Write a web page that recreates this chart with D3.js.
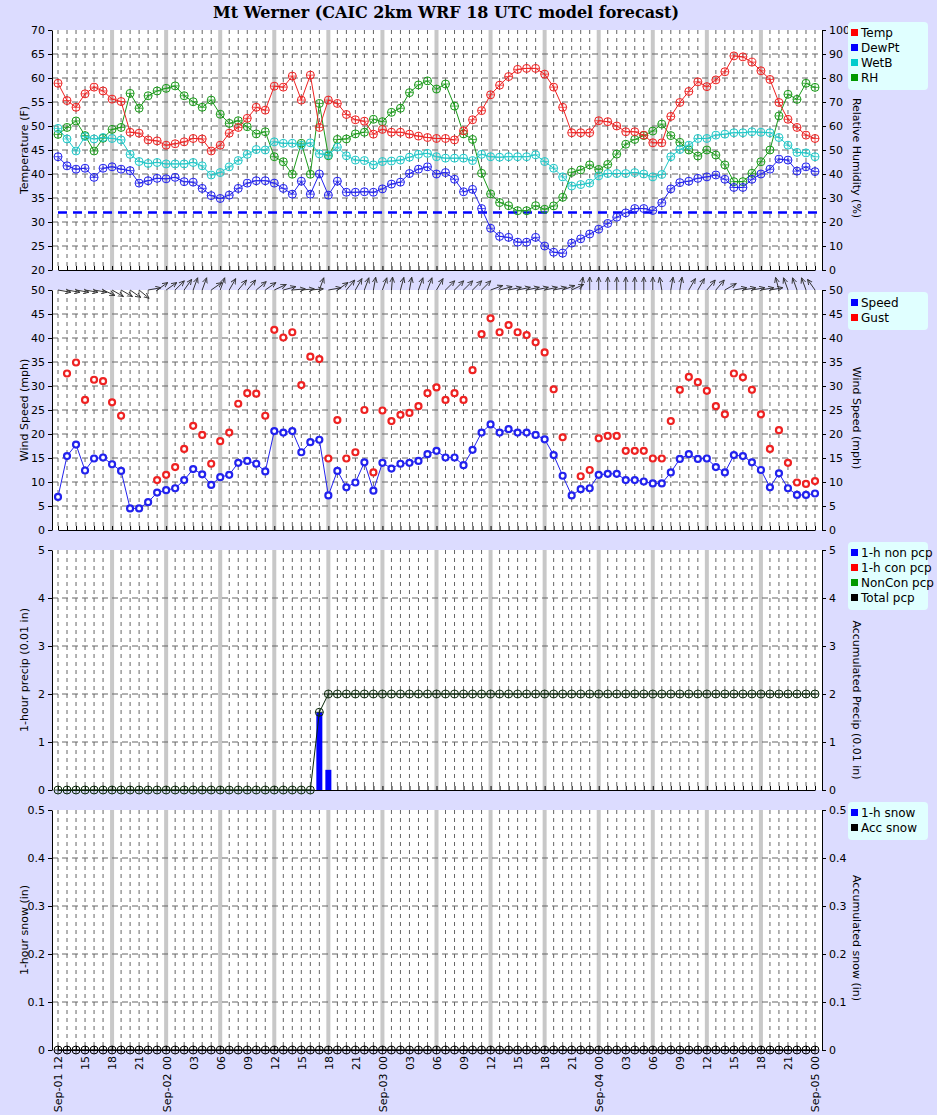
<!DOCTYPE html>
<html><head><meta charset="utf-8">
<script src="https://cdn.jsdelivr.net/npm/d3@7"></script>
<style>body{margin:0;background:#dcdcff}svg{display:block}text{font-family:"DejaVu Sans",sans-serif}</style>
</head><body><div id="chart"></div>
<script>
// hourly from Sep-01 12 UTC to Sep-05 00 UTC
const hours = d3.range(0, 85)
const temp = [58.9,55.3,53.9,56.7,58.1,57.3,55.6,55.1,48.7,48.5,47.1,46.9,46.0,46.3,46.7,47.4,47.3,44.8,46.0,48.5,49.7,51.6,53.9,53.3,58.3,58.1,60.4,55.4,60.6,49.7,55.4,54.7,52.4,51.3,51.0,48.3,49.3,48.7,48.7,48.3,47.9,47.6,47.4,47.4,47.1,49.0,51.3,53.2,56.5,58.5,60.3,61.8,62.0,62.0,60.8,58.1,53.9,48.6,48.6,48.6,51.1,50.9,50.0,48.8,48.8,48.1,46.5,46.5,52.0,54.9,57.2,59.2,58.2,59.6,61.3,64.6,64.4,63.3,61.5,59.7,54.9,51.4,49.7,48.1,47.4]
const dewpt = [43.6,41.7,41.0,41.2,39.3,41.2,41.5,41.0,40.7,38.1,38.6,39.1,39.0,39.3,38.4,38.3,37.0,35.5,34.9,35.6,37.0,38.1,38.6,38.6,38.1,37.0,35.8,38.5,35.8,40.0,35.6,38.5,36.2,36.2,36.3,36.2,36.9,37.9,38.3,40.1,41.0,41.5,40.0,40.3,38.9,36.3,36.8,32.8,28.7,27.0,26.8,25.8,25.8,26.8,25.0,23.7,23.5,25.6,26.5,27.5,28.5,29.7,31.0,31.9,32.8,32.8,32.4,34.0,36.9,38.2,38.5,39.1,39.4,39.8,38.9,37.2,37.2,38.9,40.0,41.0,43.1,42.9,40.6,41.5,40.5]
const wetb = [49.5,47.3,44.8,47.8,47.3,47.6,47.4,47.1,44.1,42.6,42.2,42.4,42.1,42.1,42.1,42.4,41.7,39.8,40.3,41.5,42.8,44.1,45.1,45.0,46.7,46.4,46.4,46.0,46.5,44.2,44.0,45.6,43.8,42.9,42.8,41.9,42.6,42.7,42.9,43.5,44.1,44.3,43.6,43.3,43.3,43.3,42.8,44.1,43.6,43.5,43.6,43.6,43.6,44.0,42.6,41.2,39.4,37.5,37.8,38.1,39.6,40.1,40.1,40.1,40.3,40.0,39.4,39.9,43.6,45.1,46.0,47.4,47.4,48.1,48.3,48.6,48.6,48.8,48.7,48.6,47.6,46.0,44.5,44.4,43.6]
const rh = [56.5,59.4,62.1,56.0,49.6,54.9,58.6,59.4,73.6,67.4,72.6,74.6,75.7,76.7,72.6,70.1,67.8,70.8,64.9,61.1,62.2,59.7,56.7,57.6,47.2,45.1,39.9,52.8,39.9,69.4,47.6,54.4,54.6,56.7,57.4,62.8,61.8,65.7,67.4,73.9,77.1,78.8,75.4,77.5,68.3,56.7,54.4,40.3,31.7,28.1,26.8,24.7,24.7,26.8,25.3,26.7,30.3,40.7,41.7,43.8,41.9,44.0,48.3,52.4,54.4,56.0,57.9,60.8,56.0,53.2,50.0,47.5,50.0,47.9,43.8,36.8,36.8,40.3,45.1,50.0,64.2,73.2,71.1,77.8,76.1]
const speed = [6.9,15.4,17.8,12.4,14.9,15.1,13.7,12.3,4.5,4.5,5.8,7.8,8.3,8.7,10.4,12.7,11.6,9.4,11.0,11.5,14.0,14.4,13.8,12.2,20.6,20.3,20.6,16.2,18.3,18.8,7.2,12.3,8.9,9.9,14.1,8.2,14.0,12.8,13.8,14.0,14.4,15.8,16.5,15.1,15.1,13.5,16.7,20.3,22.0,20.3,21.0,20.3,20.3,19.8,18.9,15.6,11.3,7.2,8.5,8.7,11.5,11.7,11.7,10.4,10.4,10.1,9.7,9.7,12.0,14.8,15.8,14.8,14.9,13.1,12.0,15.6,15.4,14.1,12.5,8.9,11.8,8.7,7.3,7.3,7.6]
const gust = [null,32.6,34.9,27.1,31.3,31.0,26.6,23.8,null,null,null,10.4,11.5,13.1,16.9,21.7,19.8,13.8,18.5,20.3,26.3,28.5,28.4,23.8,41.7,40.1,41.2,30.2,36.1,35.6,14.9,22.9,14.9,16.2,25.0,12.0,24.9,22.7,24.0,24.4,25.8,28.5,29.7,27.1,28.5,27.1,33.3,40.8,44.1,41.2,42.7,41.2,40.6,39.1,37.0,29.3,19.3,null,11.2,12.5,19.1,19.6,19.6,16.5,16.5,16.5,14.9,14.9,22.7,29.2,31.9,30.8,29.0,25.8,24.1,32.6,31.8,29.2,24.1,16.9,20.8,14.0,9.9,9.6,10.2]
// wind direction (deg, from)
const wdir = [280,280,280,280,280,295,300,300,305,310,260,235,235,225,215,200,200,235,200,210,220,220,230,235,245,255,265,265,265,200,260,235,220,210,200,190,200,185,195,190,200,200,210,225,225,225,225,225,250,255,258,258,258,258,258,258,250,245,190,180,180,180,180,180,180,180,180,170,190,190,210,210,220,220,240,260,260,260,260,260,165,160,160,160,145]
const pcpNon = hours.map(h => h === 29 ? 1.62 : h === 30 ? 0.42 : 0)
const pcpAcc = hours.map(h => h < 29 ? 0 : h === 29 ? 1.62 : 2.0)
const snowAcc = hours.map(() => 0)
const dayLabels = {0:'Sep-01 12',12:'Sep-02 00',36:'Sep-03 00',60:'Sep-04 00',84:'Sep-05 00'}

const W = 937, H = 1115, L = 52, R = 822
const svg = d3.select('#chart').append('svg').attr('width', W).attr('height', H)
svg.append('rect').attr('width', W).attr('height', H).attr('fill', '#dcdcff')
svg.append('text').attr('x', 446).attr('y', 18).attr('text-anchor', 'middle')
  .style('font-family', '"DejaVu Serif",serif').style('font-weight', 'bold').style('font-size', '16px')
  .text('Mt Werner (CAIC 2km WRF 18 UTC model forecast)')

const x = d3.scaleLinear().domain([0, 84]).range([58, 815])

function panel(top, yDom, yStep, yDom2, leftLabel, rightLabel, legend, fmt, fmt2, legOff, labOff) {
  const y = d3.scaleLinear().domain(yDom).range([top + 240, top])
  const y2 = d3.scaleLinear().domain(yDom2).range([top + 240, top])
  const g = svg.append('g')
  g.append('rect').attr('x', L).attr('y', top).attr('width', R - L).attr('height', 240).attr('fill', '#fff')
  hours.filter(h => h % 6 === 0 && h > 0 && h < 84).forEach(h =>
    g.append('line').attr('x1', x(h)).attr('x2', x(h)).attr('y1', top).attr('y2', top + 240)
      .attr('stroke', '#c8c8c8').attr('stroke-width', 4))
  hours.filter(h => h % 6 !== 0 || h === 0 || h === 84).forEach(h =>
    g.append('line').attr('x1', x(h)).attr('x2', x(h)).attr('y1', top).attr('y2', top + 240)
      .attr('stroke', '#666').attr('stroke-dasharray', '4,4'))
  const ticks = d3.range(yDom[0], yDom[1] + yStep / 2, yStep)
  ticks.slice(1, -1).forEach(t =>
    g.append('line').attr('x1', L).attr('x2', R).attr('y1', y(t)).attr('y2', y(t))
      .attr('stroke', '#666').attr('stroke-dasharray', '6,4'))
  g.append('g').attr('transform', `translate(${L},0)`)
    .call(d3.axisLeft(y).tickValues(ticks).tickFormat(fmt).tickSize(4).tickSizeOuter(0))
  const t2 = ticks.map((t, i) => yDom2[0] + (yDom2[1] - yDom2[0]) * i / (ticks.length - 1))
  g.append('g').attr('transform', `translate(${R},0)`)
    .call(d3.axisRight(y2).tickValues(t2).tickFormat(fmt2).tickSize(4).tickSizeOuter(0))
  g.append('g').attr('transform', `translate(0,${top + 240})`)
    .call(d3.axisBottom(x).tickValues(hours).tickFormat('').tickSize(-4).tickSizeOuter(0))
  g.selectAll('.domain').attr('stroke', '#000')
  g.selectAll('.tick text').style('font-size', '11px').attr('fill', '#000')
  g.append('text').attr('transform', `translate(28,${top + 120}) rotate(-90)`).attr('text-anchor', 'middle')
    .style('font-size', '11px').text(leftLabel)
  g.append('text').attr('transform', `translate(853,${top + (labOff || 128)}) rotate(90)`).attr('text-anchor', 'middle')
    .style('font-size', '11px').text(rightLabel)
  const lt = top + (legOff || 0)
  const lg = g.append('g')
  lg.append('rect').attr('x', 848).attr('y', lt - 8).attr('width', 80).attr('height', legend.length * 15 + 8)
    .attr('rx', 4).attr('fill', '#e0ffff')
  legend.forEach((d, i) => {
    lg.append('rect').attr('x', 851).attr('y', lt - 1 + i * 15).attr('width', 7).attr('height', 7).attr('fill', d[1])
    lg.append('text').attr('x', 861).attr('y', lt + 7 + i * 15).style('font-size', '12px').text(d[0])
  })
  return {y, y2, g}
}

function series(p, ys, data, color, cross) {
  const pts = hours.map(h => [h, data[h]]).filter(d => d[1] != null)
  p.g.append('path').datum(pts).attr('fill', 'none').attr('stroke', color)
    .attr('d', d3.line().x(d => x(d[0])).y(d => ys(d[1])))
  markers(p, ys, pts, color, cross)
}
function markers(p, ys, pts, color, cross) {
  pts.forEach(d => {
    p.g.append('circle').attr('cx', x(d[0])).attr('cy', ys(d[1])).attr('r', cross ? 4 : 3)
      .attr('fill', cross ? 'none' : '#fff').attr('stroke', color).attr('stroke-width', cross ? 1 : 2.2)
    if (cross) {
      p.g.append('path').attr('d', `M${x(d[0]) - 4},${ys(d[1])}h8M${x(d[0])},${ys(d[1]) - 4}v8`)
        .attr('stroke', color).attr('stroke-width', 0.8)
    }
  })
}

// panel 1
const p1 = panel(30, [20, 70], 5, [0, 100], 'Temperature (F)', 'Relative Humidity (%)',
  [['Temp', '#f00'], ['DewPt', '#00f'], ['WetB', '#0cc'], ['RH', '#090']], d3.format('d'), d3.format('d'))
p1.g.append('line').attr('x1', 58).attr('x2', R).attr('y1', p1.y(32)).attr('y2', p1.y(32))
  .attr('stroke', '#00f').attr('stroke-width', 2.5).attr('stroke-dasharray', '9,6')
series(p1, p1.y2, rh, '#1a9a1a', true)
series(p1, p1.y, wetb, '#1fc8c8', true)
series(p1, p1.y, dewpt, '#2222ee', true)
series(p1, p1.y, temp, '#ee2222', true)

// panel 2
const p2 = panel(290, [0, 50], 5, [0, 50], 'Wind Speed (mph)', 'Wind Speed (mph)',
  [['Speed', '#00f'], ['Gust', '#f00']], d3.format('d'), d3.format('d'), 10)
series(p2, p2.y, speed, '#2222ee', false)
markers(p2, p2.y, hours.map(h => [h, gust[h]]).filter(d => d[1] != null), '#ee2222', false)
svg.append('defs').append('marker').attr('id', 'ah').attr('viewBox', '0 0 10 10').attr('refX', 9).attr('refY', 5)
  .attr('markerWidth', 6).attr('markerHeight', 6).attr('orient', 'auto')
  .append('path').attr('d', 'M0,1L9,5L0,9').attr('fill', 'none').attr('stroke', '#333').attr('stroke-width', 1.5)
hours.forEach(h => {
  const a = (wdir[h] + 180) * Math.PI / 180, len = 13
  const x0 = x(h), y0 = p2.y(50)
  p2.g.append('line').attr('x1', x0).attr('y1', y0).attr('x2', x0 + len * Math.sin(a)).attr('y2', y0 - len * Math.cos(a))
    .attr('stroke', '#333').attr('stroke-width', 1).attr('marker-end', 'url(#ah)')
})

// panel 3
const p3 = panel(550, [0, 5], 1, [0, 5], '1-hour precip (0.01 in)', 'Accumulated Precip (0.01 in)',
  [['1-h non pcp', '#00f'], ['1-h con pcp', '#f00'], ['NonCon pcp', '#090'], ['Total pcp', '#000']], d3.format('d'), d3.format('d'), 0, 150)
hours.filter(h => pcpNon[h] > 0).forEach(h =>
  p3.g.append('rect').attr('x', x(h) - 3).attr('width', 6).attr('y', p3.y(pcpNon[h]))
    .attr('height', p3.y(0) - p3.y(pcpNon[h])).attr('fill', '#00f'))
series(p3, p3.y2, pcpAcc, '#0c2a0c', true)

// panel 4
const p4 = panel(810, [0, 0.5], 0.1, [0, 0.5], '1-hour snow (in)', 'Accumulated snow (in)',
  [['1-h snow', '#00f'], ['Acc snow', '#000']], d => d === 0 ? '0' : d3.format('.1f')(d), d => d === 0 ? '0' : d3.format('.1f')(d))
series(p4, p4.y2, snowAcc, '#000', true)
p4.g.append('g').attr('transform', 'translate(0,1050)')
  .call(d3.axisBottom(x).tickValues(hours.filter(h => h % 3 === 0)).tickSize(0)
    .tickFormat(h => dayLabels[h] || String((h + 12) % 24).padStart(2, '0')))
  .call(g => g.select('.domain').remove())
  .selectAll('text').attr('transform', 'rotate(-90)').attr('text-anchor', 'end')
  .attr('x', -6).attr('y', 0).attr('dy', '0.35em').style('font-size', '11px').attr('fill', '#000')
</script></body></html>
